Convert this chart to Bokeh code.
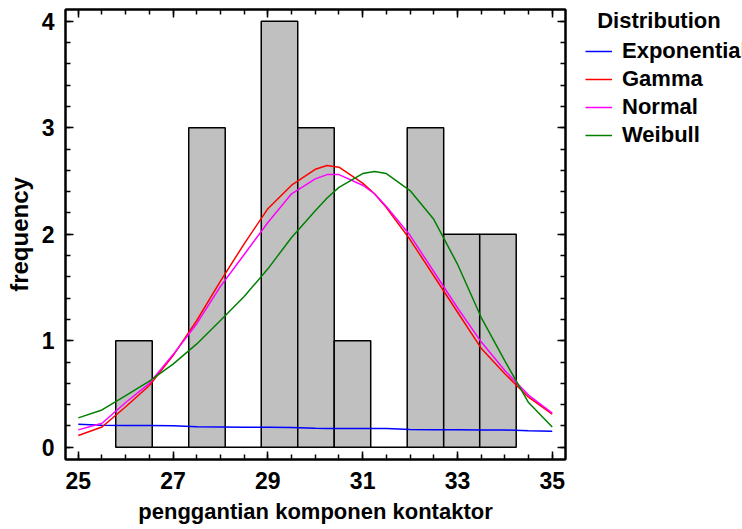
from bokeh.plotting import figure
from bokeh.models import (LinearAxis, Range1d, Legend, LegendItem,
                          FixedTicker, ColumnDataSource)
from bokeh.layouts import row
from bokeh.embed import file_html
from bokeh.resources import INLINE

# ---------------- data ----------------
bin_edges = [25.79, 26.56, 27.33, 28.10, 28.86, 29.63, 30.40, 31.17,
             31.94, 32.71, 33.47, 34.24]
counts = [1, 0, 3, 0, 4, 3, 1, 0, 3, 2, 2]

curve_x = [25.0, 25.5, 26.0, 26.5, 27.0, 27.5, 28.0, 28.5, 29.0, 29.5, 30.0,
           30.25, 30.5, 31.0, 31.25, 31.5, 32.0, 32.5, 33.0, 33.5, 34.0, 34.5, 35.0]
exponential = [0.215, 0.206, 0.205, 0.204, 0.203, 0.192, 0.190, 0.188, 0.187, 0.185,
               0.178, 0.177, 0.177, 0.176, 0.176, 0.175, 0.166, 0.165, 0.164, 0.163,
               0.162, 0.155, 0.150]
gamma = [0.11, 0.19, 0.38, 0.58, 0.86, 1.19, 1.56, 1.91, 2.24, 2.46, 2.61,
         2.645, 2.63, 2.48, 2.38, 2.25, 1.95, 1.61, 1.27, 0.93, 0.69, 0.47, 0.31]
normal = [0.163, 0.225, 0.42, 0.60, 0.87, 1.16, 1.51, 1.81, 2.11, 2.38, 2.52,
          2.56, 2.56, 2.46, 2.38, 2.26, 1.99, 1.65, 1.31, 0.99, 0.72, 0.49, 0.32]
weibull = [0.276, 0.35, 0.485, 0.62, 0.78, 0.97, 1.19, 1.415, 1.675, 1.97, 2.22,
           2.34, 2.44, 2.57, 2.59, 2.57, 2.41, 2.14, 1.72, 1.22, 0.81, 0.42, 0.19]

series_names = ["Exponential", "Gamma", "Normal", "Weibull"]
series_colors = ["#0000ff", "#ff0000", "#ff00ff", "#008000"]

x_major = [25, 27, 29, 31, 33, 35]
x_minor = [25 + 0.5 * i for i in range(21)]
y_major = [0, 1, 2, 3, 4]
y_minor = [0.2 * i for i in range(21)]

x_label = "penggantian komponen kontaktor"
y_label = "frequency"
legend_title = "Distribution"

FONT = "Liberation Sans"
all_series = [exponential, gamma, normal, weibull]

# ---------------- main figure ----------------
p = figure(width=567, height=529, output_backend="svg", toolbar_location=None,
           x_range=Range1d(24.73, 35.28), y_range=Range1d(-0.115, 4.11),
           min_border_left=65, min_border_right=2, min_border_top=9,
           min_border_bottom=70)
p.xgrid.visible = False
p.ygrid.visible = False
p.outline_line_color = "black"
p.outline_line_width = 2
p.background_fill_color = "white"
p.border_fill_color = "white"

src = ColumnDataSource(dict(left=bin_edges[:-1], right=bin_edges[1:], top=counts))
p.quad(left="left", right="right", top="top", bottom=0, source=src,
       fill_color="#c0c0c0", line_color="black", line_width=1.5)

for ys, col in zip(all_series, series_colors):
    p.line(curve_x, ys, line_color=col, line_width=1.5)


def style_axis(ax, ticks, minor, show_labels):
    ax.ticker = FixedTicker(ticks=ticks, minor_ticks=minor)
    ax.axis_line_width = 2
    ax.axis_line_color = "black"
    ax.major_tick_in = 8
    ax.major_tick_out = 0
    ax.minor_tick_in = 5
    ax.minor_tick_out = 0
    ax.major_tick_line_width = 1.5
    ax.minor_tick_line_width = 1.5
    ax.major_tick_line_color = "black"
    ax.minor_tick_line_color = "black"
    ax.major_label_text_font = FONT
    ax.major_label_text_font_style = "bold"
    ax.major_label_text_color = "black"
    if show_labels:
        ax.major_label_text_font_size = "23px"
    else:
        ax.major_label_overrides = {t: "" for t in ticks}
        ax.major_label_text_font_size = "1px"
        ax.major_label_standoff = 0


xa = p.xaxis[0]
ya = p.yaxis[0]
style_axis(xa, x_major, x_minor, True)
style_axis(ya, y_major, y_minor, True)
xa.major_label_standoff = 12
ya.major_label_standoff = 11
xa.axis_label = x_label
ya.axis_label = y_label
for ax in (xa, ya):
    ax.axis_label_text_font = FONT
    ax.axis_label_text_font_style = "bold"
    ax.axis_label_text_color = "black"
xa.axis_label_text_font_size = "22px"
ya.axis_label_text_font_size = "24px"
xa.axis_label_standoff = 7
ya.axis_label_standoff = 6

top_ax = LinearAxis()
style_axis(top_ax, x_major, x_minor, False)
p.add_layout(top_ax, "above")
right_ax = LinearAxis()
style_axis(right_ax, y_major, y_minor, False)
p.add_layout(right_ax, "right")

# ---------------- legend panel ----------------
# The same curves are drawn here, outside this panel's view, only so the
# legend has renderers whose line styles it can show.
lf = figure(width=175, height=529, output_backend="svg", toolbar_location=None,
            x_axis_type=None, y_axis_type=None, min_border=0,
            x_range=Range1d(0, 1), y_range=Range1d(10, 11))
lf.xgrid.visible = False
lf.ygrid.visible = False
lf.outline_line_color = None
lf.background_fill_color = "white"
lf.border_fill_color = "white"

leg_renderers = [lf.line(curve_x, ys, line_color=c, line_width=1.5)
                 for ys, c in zip(all_series, series_colors)]

legend = Legend(items=[LegendItem(label=n, renderers=[r]) for n, r in zip(series_names, leg_renderers)],
                location=(18, 310), padding=0, margin=0,
                title="\u00a0\u00a0" + legend_title, title_text_font=FONT,
                title_text_font_style="bold", title_text_font_size="22px",
                title_text_color="black", title_standoff=3,
                border_line_color=None, background_fill_alpha=0,
                label_text_font=FONT, label_text_font_style="bold",
                label_text_font_size="22px", label_text_color="black",
                glyph_width=27, glyph_height=28, label_height=28,
                label_standoff=10, spacing=0)
lf.add_layout(legend)

layout = row(p, lf, spacing=0)
open("out.html", "w").write(file_html(layout, INLINE))
